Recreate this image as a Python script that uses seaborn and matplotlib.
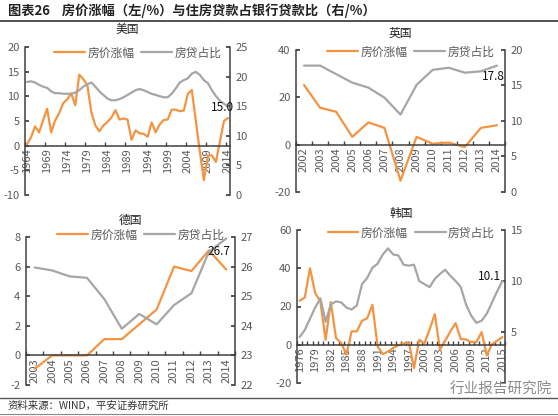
import numpy as np
import matplotlib
matplotlib.use('Agg')
import matplotlib.pyplot as plt
from matplotlib.lines import Line2D
import seaborn as sns

# ---- data ----
us_years = list(range(1964, 2015))
us_price = [0.3, 1.7, 3.9, 2.7, 5.1, 7.5, 2.7, 5.1, 6.6, 8.6,
            9.4, 10.6, 8.2, 14.4, 13.5, 12.3, 6.8, 4.1, 2.9, 4.1,
            4.8, 5.7, 7.2, 5.3, 5.5, 5.3, 1.2, 3.1, 2.5, 2.4,
            1.8, 4.7, 2.7, 4.3, 5.2, 5.3, 7.3, 7.3, 7.0, 7.1,
            10.5, 11.3, 5.0, -1.2, -7.0, -2.0, -2.0, -3.3, 0.9, 5.0,
            5.6]
us_loan = [19.1, 19.2, 19.0, 18.6, 18.3, 18.1, 17.5, 17.2, 17.2, 17.1,
           17.1, 17.1, 17.3, 17.7, 18.3, 18.7, 19.0, 18.3, 17.5, 16.9,
           16.3, 16.0, 16.0, 16.2, 16.5, 16.9, 17.3, 17.7, 17.9, 17.7,
           17.4, 17.1, 16.9, 16.7, 16.5, 16.5, 17.1, 18.0, 19.0, 19.4,
           19.7, 20.5, 20.8, 20.3, 19.4, 18.9, 17.7, 16.7, 15.9, 15.4,
           15.0]

uk_years = list(range(2002, 2015))
uk_price = [25.2, 15.6, 13.9, 3.3, 9.4, 7.1, -15.2, 3.3, 0.4, 0.9, -1.0, 7.1, 8.2]
uk_loan = [17.8, 17.8, 16.6, 15.4, 14.7, 13.3, 10.9, 15.1, 17.2, 17.5, 16.8, 17.0, 17.8]

de_years = list(range(2003, 2015))
de_price = [-0.9, 0.0, 0.0, 0.0, 1.1, 1.1, 2.1, 3.1, 6.0, 5.7, 7.1, 5.8]
de_loan = [25.97, 25.87, 25.67, 25.62, 24.9, 23.9, 24.4, 24.05, 24.7, 25.1, 26.5, 26.95]

kr_years = list(range(1976, 2016))
kr_price = [23.0, 24.7, 40.0, 27.0, 22.6, 2.6, 22.3, 3.5, 0.9, -5.2,
            7.0, 7.0, 12.5, 13.9, 20.9, -0.9, -4.9, -3.5, -1.7, -0.3,
            0.7, 1.4, -12.2, 2.6, 0.7, 8.0, 16.0, -2.6, 2.1, 7.0,
            11.3, 3.0, 2.8, 1.4, 1.4, 6.6, -5.6, 0.3, 2.1, 4.0]
kr_loan = [4.5, 5.2, 6.3, 7.4, 8.3, 6.0, 7.7, 8.0, 7.9, 7.4,
           7.2, 7.6, 9.7, 10.3, 11.3, 11.7, 12.6, 13.2, 12.6, 12.5,
           11.6, 11.5, 11.6, 10.0, 9.7, 9.4, 10.2, 10.7, 11.1, 10.5,
           10.0, 9.4, 7.7, 6.6, 5.9, 6.1, 6.8, 7.9, 9.0, 10.0]

end_labels = {'美国': '15.0', '英国': '17.8', '德国': '26.7', '韩国': '10.1'}

# ---- style ----
sns.set_theme(style='white')
plt.rcParams['font.family'] = ['Noto Sans CJK SC', 'DejaVu Sans']
plt.rcParams['axes.unicode_minus'] = False

ORANGE = '#F39442'
GRAY = '#A6A6A6'
AXC = '#404040'
TXT = '#595959'
W, H = 558, 416

fig = plt.figure(figsize=(W / 100, H / 100), dpi=100)


def rect(l, t, r, b):
    return [l / W, 1 - b / H, (r - l) / W, (b - t) / H]


def panel(box, name, years, price, loan, yl, yr, label_step, tick_step, off, leg_dy,
          hide_r0=False):
    ax = fig.add_axes(rect(*box))
    ax2 = ax.twinx()
    sns.lineplot(x=years, y=price, ax=ax, color=ORANGE, lw=1.6)
    sns.lineplot(x=years, y=loan, ax=ax2, color=GRAY, lw=1.6)
    ax.set_xlim(years[0] - 0.5, years[-1] + 0.5)
    ax.set_ylim(yl[0], yl[1])
    ax2.set_ylim(yr[0], yr[1])
    ax.set_yticks(np.arange(yl[0], yl[1] + yl[2] / 2, yl[2]))
    rt = np.arange(yr[0], yr[1] + yr[2] / 2, yr[2])
    ax2.set_yticks(rt)
    if hide_r0:
        # the bottom label sits under the watermark in the reference
        ax2.set_yticklabels([''] + [f'{v:g}' for v in rt[1:]])

    for s in ['top', 'right']:
        ax.spines[s].set_visible(False)
    for s in ['top', 'left', 'bottom']:
        ax2.spines[s].set_visible(False)
    ax.spines['bottom'].set_position(('data', 0))
    for sp in [ax.spines['left'], ax.spines['bottom'], ax2.spines['right']]:
        sp.set_color(AXC)
        sp.set_linewidth(1.1)

    ax.set_xticks(years[::label_step])
    ax.set_xticklabels([str(y) for y in years[::label_step]])
    ax.set_xticks(np.arange(years[0] - 0.5, years[-1] + 1, tick_step), minor=True)
    ax.tick_params(axis='x', which='major', length=0, labelrotation=90, pad=2,
                   labelsize=8, labelcolor=TXT)
    ax.tick_params(axis='x', which='minor', direction='in', length=3, color=AXC, bottom=True)
    ax.tick_params(axis='y', direction='in', length=3, color=AXC, left=True,
                   labelsize=8, labelcolor=TXT, pad=4)
    ax2.tick_params(axis='y', direction='in', length=3, color=AXC, right=True,
                    labelsize=8, labelcolor=TXT, pad=4)
    ax.set_xlabel('')
    ax.set_ylabel('')
    ax2.set_ylabel('')
    ax.grid(False)
    ax2.grid(False)

    h1 = ax.lines[0]
    h2 = ax2.lines[0]
    h_px = box[3] - box[1]
    ax2.legend([h1, h2], ['房价涨幅', '房贷占比'], loc='center',
               bbox_to_anchor=(0.55, 1 + leg_dy / h_px), ncol=2, frameon=False,
               handlelength=2.6, columnspacing=0.6, handletextpad=0.2,
               fontsize=8.5, labelcolor=TXT)

    ax2.annotate(end_labels[name], xy=(years[-1], loan[-1]), xytext=off,
                 textcoords='offset pixels', ha='right', va='center',
                 fontsize=8.5, color='#111111')
    cx = (box[0] + box[2]) / 2
    fig.text(cx / W, 1 - (box[1] - 17) / H, name, ha='center', va='center',
             fontsize=8.5, color='#222222')


panel((25, 47, 230, 195), '美国', us_years, us_price, us_loan,
      (-10, 20, 5), (0, 25, 5), 5, 5, (6, -1), -6)
panel((296, 50, 505, 192), '英国', uk_years, uk_price, uk_loan,
      (-20, 40, 20), (0, 20, 5), 1, 1, (8, -11), -2)
panel((26, 237, 235, 385), '德国', de_years, de_price, de_loan,
      (-2, 8, 2), (22, 27, 1), 1, 1, (4, -13), 2)
panel((297, 230, 505, 383), '韩国', kr_years, kr_price, kr_loan,
      (-20, 60, 20), (0, 15, 5), 3, 1, (-1, 4), -3, hide_r0=True)

# header / footer
fig.text(8 / W, 1 - 11 / H, '图表26    房价涨幅（左/%）与住房贷款占银行贷款比（右/%）',
         fontsize=9.5, weight='bold', color='#222222', va='center')
fig.add_artist(Line2D([0, 1], [1 - 21 / H] * 2, color='#333333', lw=1.2))
fig.add_artist(Line2D([0, 1], [1 - 398 / H] * 2, color='#555555', lw=1.0))
fig.add_artist(Line2D([0, 1], [1 - 414 / H] * 2, color='#888888', lw=0.8))
fig.text(8 / W, 1 - 406 / H, '资料来源：WIND，平安证券研究所', fontsize=7.5,
         color='#333333', va='center')
fig.text(450 / W, 1 - 390 / H, '行业报告研究院', fontsize=10.5,
         color='#8c8c8c', va='center')

fig.savefig('out.png', dpi=100)
